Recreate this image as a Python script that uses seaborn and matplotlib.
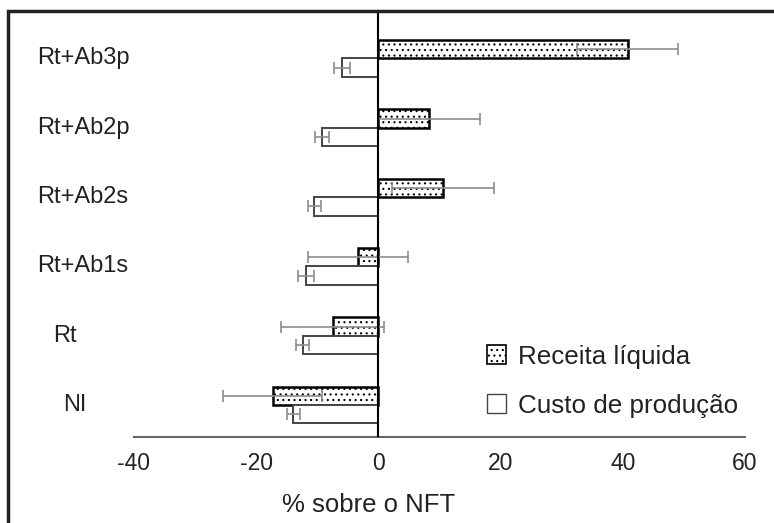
import pandas as pd
import matplotlib
matplotlib.use('Agg')
from matplotlib import pyplot as plt
from matplotlib import transforms
from matplotlib.patches import Patch, Rectangle
import seaborn as sns

# values (% relative to NFT)
categories = ['Rt+Ab3p', 'Rt+Ab2p', 'Rt+Ab2s', 'Rt+Ab1s', 'Rt', 'NI']
receita = [40.8, 8.3, 10.6, -3.4, -7.5, -17.3]
receita_err = [8.3, 8.3, 8.4, 8.2, 8.5, 8.1]
custo = [-6.0, -9.2, -10.5, -11.9, -12.4, -13.9]
custo_err = [1.3, 1.2, 1.1, 1.3, 1.1, 1.1]
series = ['Receita líquida', 'Custo de produção']
x_ticks = [-40, -20, 0, 20, 40, 60]


def build_frame():
    """ long table for seaborn """
    df = pd.DataFrame({
        'trat': categories * 2,
        'valor': receita + custo,
        'erro': receita_err + custo_err,
        'serie': [series[0]] * len(categories) + [series[1]] * len(categories),
    })
    return df


def main():
    sns.set_style('white')
    plt.rcParams['font.family'] = ['Liberation Sans', 'DejaVu Sans']
    plt.rcParams['hatch.linewidth'] = 0.8

    df = build_frame()

    fig = plt.figure(figsize=(7.74, 5.23), dpi=100)
    ax = fig.add_axes([0.1731, 0.1644, 0.7894, 0.8146])

    sns.barplot(data=df, y='trat', x='valor', hue='serie', hue_order=series,
                order=categories, orient='h', width=0.53, errorbar=None,
                legend=False, ax=ax)

    # style bars + error bars from the bar geometry
    errs = [receita_err, custo_err]
    bar_groups = list(ax.containers)[:2]
    for i, cont in enumerate(bar_groups):
        for bar, e in zip(cont, errs[i]):
            bar.set_facecolor('white')
            if i == 0:
                bar.set_edgecolor('black')
                bar.set_linewidth(1.8)
                bar.set_hatch('...')
            else:
                bar.set_edgecolor('#444444')
                bar.set_linewidth(1.4)
            yc = bar.get_y() + bar.get_height() / 2
            ax.errorbar(bar.get_x() + bar.get_width(), yc, xerr=e,
                        fmt='none', ecolor='#8c8c8c', elinewidth=1.2,
                        capsize=4.2, capthick=1.2, zorder=5)

    ax.axvline(0, color='black', lw=1.5, zorder=6)

    ax.set_xlim(-40, 60)
    ax.set_ylim(5.46, -0.685)
    ax.set_xticks(x_ticks)
    ax.set_xticklabels([str(v) for v in x_ticks], fontsize=16.5, color='#222222')
    ax.tick_params(axis='x', length=0, pad=11)
    ax.set_yticks(range(len(categories)))
    ax.set_yticklabels([''] * len(categories))
    ax.tick_params(axis='y', length=0)
    ax.set_ylabel('')
    ax.set_xlabel('% sobre o NFT', fontsize=18.5, color='#222222')
    ax.xaxis.set_label_coords(0.384, -0.131)

    for side in ['top', 'right', 'left']:
        ax.spines[side].set_visible(False)
    ax.spines['bottom'].set_color('#666666')
    ax.spines['bottom'].set_linewidth(1.5)

    # category labels, placed like the original
    label_left = [0.048, 0.048, 0.048, 0.048, 0.068, 0.081]
    trans = transforms.blended_transform_factory(fig.transFigure, ax.transData)
    for lab, xl, yi in zip(categories, label_left, range(len(categories))):
        ax.text(xl, yi, lab, transform=trans, ha='left', va='center',
                fontsize=17, color='#222222')

    handles = [Patch(facecolor='white', edgecolor='black', hatch='...', lw=1.2,
                     label=series[0]),
               Patch(facecolor='white', edgecolor='#444444', lw=1.0,
                     label=series[1])]
    leg = ax.legend(handles=handles, loc='upper left',
                    bbox_to_anchor=(0.599, 0.385),
                    bbox_transform=fig.transFigure, frameon=False,
                    fontsize=18.7, handlelength=0.75, handleheight=0.75,
                    handletextpad=0.45, labelspacing=0.95)
    for t in leg.get_texts():
        t.set_color('#222222')

    # outer frame around the figure
    fig.patches.append(Rectangle((0.0103, -0.05), 1.1, 1.0295, fill=False,
                                 lw=2.5, edgecolor='#222222',
                                 transform=fig.transFigure, figure=fig))

    fig.savefig('out.png', dpi=100)


if __name__ == "__main__":
    main()
